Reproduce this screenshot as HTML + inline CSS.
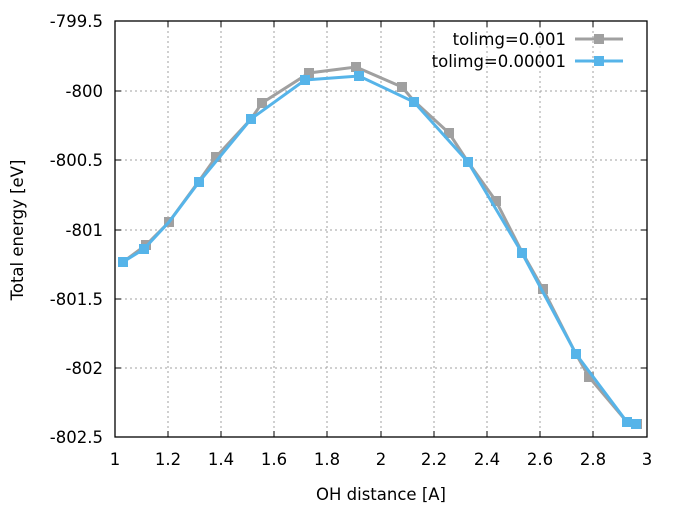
<!DOCTYPE html><html><head><style>body{margin:0;background:#fff}svg{display:block}text{font-family:"DejaVu Sans","Liberation Sans",sans-serif;font-size:16.5px;fill:#000}</style></head><body>
<svg width="680" height="510" viewBox="0 0 680 510">
<g stroke="#a0a0a0" stroke-width="1" stroke-dasharray="2,3">
<line x1="168" y1="21" x2="168" y2="437"/><line x1="221" y1="21" x2="221" y2="437"/><line x1="274" y1="21" x2="274" y2="437"/><line x1="327" y1="21" x2="327" y2="437"/><line x1="381" y1="21" x2="381" y2="437"/><line x1="434" y1="21" x2="434" y2="437"/><line x1="487" y1="21" x2="487" y2="437"/><line x1="540" y1="21" x2="540" y2="437"/><line x1="593" y1="21" x2="593" y2="437"/>
<line x1="115" y1="91" x2="647" y2="91"/><line x1="115" y1="160" x2="647" y2="160"/><line x1="115" y1="230" x2="647" y2="230"/><line x1="115" y1="299" x2="647" y2="299"/><line x1="115" y1="368" x2="647" y2="368"/>
</g>
<rect x="115" y="21" width="532" height="416" fill="none" stroke="#000" stroke-width="1.3"/>
<g stroke="#000"><path d="M115 91h6M115 160h6M115 230h6M115 299h6M115 368h6M647 91h-6M647 160h-6M647 230h-6M647 299h-6M647 368h-6M168 437v-6M221 437v-6M274 437v-6M327 437v-6M381 437v-6M434 437v-6M487 437v-6M540 437v-6M593 437v-6M168 21v6M221 21v6M274 21v6M327 21v6M381 21v6M434 21v6M487 21v6M540 21v6M593 21v6"/></g>
<g text-anchor="end"><text x="103" y="27">-799.5</text><text x="103" y="97">-800</text><text x="103" y="166">-800.5</text><text x="103" y="236">-801</text><text x="103" y="305">-801.5</text><text x="103" y="374">-802</text><text x="103" y="443">-802.5</text></g>
<g text-anchor="middle"><text x="115" y="465">1</text><text x="168" y="465">1.2</text><text x="221" y="465">1.4</text><text x="274" y="465">1.6</text><text x="327" y="465">1.8</text><text x="381" y="465">2</text><text x="434" y="465">2.2</text><text x="487" y="465">2.4</text><text x="540" y="465">2.6</text><text x="593" y="465">2.8</text><text x="647" y="465">3</text>
<text x="381" y="500">OH distance [A]</text>
<text transform="translate(23,230) rotate(-90)">Total energy [eV]</text></g>
<g text-anchor="end"><text x="566" y="45">tolimg=0.001</text><text x="566" y="67">tolimg=0.00001</text></g>
<polyline fill="none" stroke="#a0a0a0" stroke-width="3" points="123,262 146,245 169,222 199,181 216,157 251,119 262,103 309,73 356,67 402,87 414,101 449,133 468,162 496,201 522,252 543,289 576,354 589,377 627,422 637,424"/>
<g fill="#a0a0a0"><rect x="118" y="257" width="10" height="10"/><rect x="141" y="240" width="10" height="10"/><rect x="164" y="217" width="10" height="10"/><rect x="211" y="152" width="10" height="10"/><rect x="257" y="98" width="10" height="10"/><rect x="304" y="68" width="10" height="10"/><rect x="351" y="62" width="10" height="10"/><rect x="397" y="82" width="10" height="10"/><rect x="444" y="128" width="10" height="10"/><rect x="491" y="196" width="10" height="10"/><rect x="538" y="284" width="10" height="10"/><rect x="584" y="372" width="10" height="10"/><rect x="632" y="419" width="10" height="10"/></g>
<line x1="575" y1="39" x2="623" y2="39" stroke="#a0a0a0" stroke-width="3"/><rect x="594" y="34" width="10" height="10" fill="#a0a0a0"/>
<polyline fill="none" stroke="#56b4e9" stroke-width="3" points="123,262 144,249 169,222 199,182 251,119 305,80 359,76 414,102 468,162 522,253 576,354 627,422 636,424"/>
<g fill="#56b4e9"><rect x="118" y="257" width="10" height="10"/><rect x="139" y="244" width="10" height="10"/><rect x="194" y="177" width="10" height="10"/><rect x="246" y="114" width="10" height="10"/><rect x="300" y="75" width="10" height="10"/><rect x="354" y="71" width="10" height="10"/><rect x="409" y="97" width="10" height="10"/><rect x="463" y="157" width="10" height="10"/><rect x="517" y="248" width="10" height="10"/><rect x="571" y="349" width="10" height="10"/><rect x="622" y="417" width="10" height="10"/><rect x="631" y="419" width="10" height="10"/></g>
<line x1="575" y1="61" x2="623" y2="61" stroke="#56b4e9" stroke-width="3"/><rect x="594" y="56" width="10" height="10" fill="#56b4e9"/>
</svg></body></html>
